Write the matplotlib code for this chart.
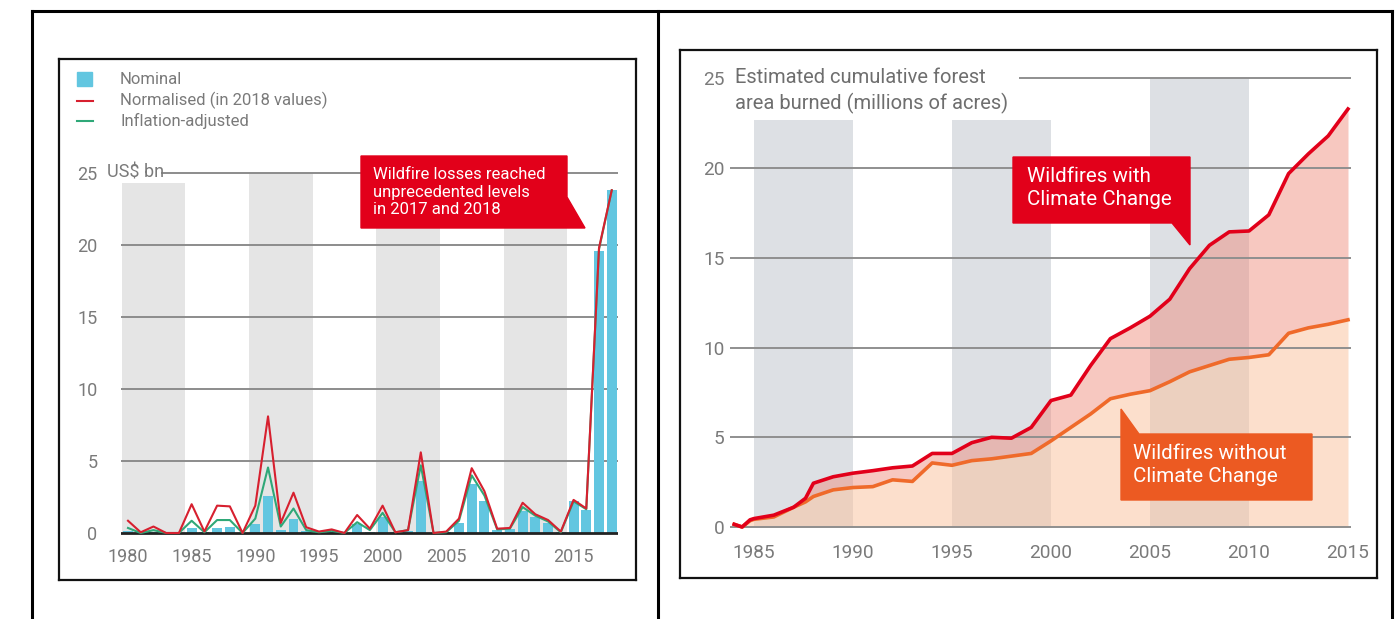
import matplotlib.pyplot as plt
from matplotlib.lines import Line2D
from matplotlib.patches import Polygon, Rectangle

plt.rcParams['font.family'] = ['Roboto', 'DejaVu Sans']

# ---- data: left chart (insured wildfire losses, US$ bn)
loss_years = list(range(1980, 2019))
nominal = [0.15, 0.05, 0.1, 0.0, 0.0, 0.35, 0.05, 0.35, 0.45, 0.0,
           0.6, 2.6, 0.2, 1.0, 0.15, 0.05, 0.1, 0.0, 0.6, 0.1,
           1.1, 0.05, 0.15, 3.6, 0.0, 0.05, 0.7, 3.4, 2.2, 0.2,
           0.3, 1.5, 1.1, 0.7, 0.05, 2.2, 1.6, 19.6, 23.8]
normalised = [0.85, 0.05, 0.45, 0.0, 0.0, 2.0, 0.1, 1.9, 1.85, 0.0,
              1.9, 8.1, 0.7, 2.8, 0.4, 0.1, 0.25, 0.0, 1.25, 0.3,
              1.9, 0.05, 0.2, 5.6, 0.0, 0.1, 1.0, 4.5, 2.9, 0.3,
              0.35, 2.1, 1.3, 0.9, 0.1, 2.3, 1.7, 19.8, 23.8]
inflation_adj = [0.35, 0.0, 0.2, 0.0, 0.0, 0.85, 0.05, 0.9, 0.9, 0.0,
                 1.0, 4.55, 0.45, 1.7, 0.2, 0.05, 0.15, 0.0, 0.75, 0.2,
                 1.4, 0.05, 0.2, 4.7, 0.0, 0.05, 0.85, 4.0, 2.6, 0.25,
                 0.3, 1.8, 1.2, 0.8, 0.05, 2.2, 1.65, 19.7, 23.8]
left_bands = [1982, 1992, 2002, 2012]
left_band_tops = [24.3, 25, 24.3, 24.3]
left_xticks = [1980, 1985, 1990, 1995, 2000, 2005, 2010, 2015]
left_yticks = [0, 5, 10, 15, 20, 25]

# ---- data: right chart (cumulative forest area burned, millions of acres)
area_years = [1984, 1984.4, 1984.8, 1985, 1986, 1987, 1987.6, 1988, 1989, 1990,
              1991, 1992, 1993, 1994, 1995, 1996, 1997, 1998, 1999, 2000,
              2001, 2002, 2003, 2004, 2005, 2006, 2007, 2008, 2009, 2010,
              2011, 2012, 2013, 2014, 2015]
with_cc = [0.15, 0.0, 0.4, 0.47, 0.66, 1.1, 1.6, 2.44, 2.8, 3.0,
           3.14, 3.3, 3.4, 4.1, 4.1, 4.7, 5.0, 4.95, 5.55, 7.05,
           7.35, 9.0, 10.5, 11.1, 11.75, 12.7, 14.4, 15.7, 16.45, 16.5,
           17.4, 19.7, 20.8, 21.8, 23.3]
without_cc = [0.15, 0.0, 0.35, 0.43, 0.56, 1.1, 1.4, 1.7, 2.07, 2.2,
              2.25, 2.63, 2.54, 3.57, 3.44, 3.7, 3.8, 3.95, 4.1, 4.8,
              5.55, 6.3, 7.15, 7.4, 7.6, 8.1, 8.65, 9.0, 9.35, 9.45,
              9.6, 10.8, 11.1, 11.3, 11.55]
right_bands = [1987.5, 1997.5, 2007.5]
right_band_tops = [22.7, 22.7, 25]
right_xticks = [1985, 1990, 1995, 2000, 2005, 2010, 2015]
right_yticks = [0, 5, 10, 15, 20, 25]

W, H = 1398, 619
fig = plt.figure(figsize=(W / 100, H / 100), dpi=100)


def fx(x):
    return x / W


def fy(y):
    return 1 - y / H


def px_axes(x0, y0, x1, y1, **kw):
    return fig.add_axes([fx(x0), fy(y1), (x1 - x0) / W, (y1 - y0) / H], **kw)


# outer table lines
for xs, ys in [([32, 1392], [11, 11]), ([32, 32], [11, 619]),
               ([658, 658], [11, 619]), ([1392, 1392], [11, 619])]:
    fig.add_artist(Line2D([fx(v) for v in xs], [fy(v) for v in ys],
                          transform=fig.transFigure, color='black', lw=2.2))

# image frames
for box in [(59, 59, 636, 580), (680, 50, 1377, 578)]:
    fr = px_axes(*box)
    fr.set_xticks([])
    fr.set_yticks([])
    fr.patch.set_alpha(0)
    for s in fr.spines.values():
        s.set_linewidth(1.6)
        s.set_color('#111111')

TICK = '#7a7a7a'

# ================= left chart =================
lx = lambda yr: 128 + (yr - 1980) * 12.73
ly = lambda v: 533 - v * 14.4
lxlim = (1979.45, 2018.5)
lylim = (-0.6, 25.6)
ax1 = px_axes(lx(lxlim[0]), ly(lylim[1]), lx(lxlim[1]), ly(lylim[0]))
ax1.set_xlim(*lxlim)
ax1.set_ylim(*lylim)
ax1.patch.set_alpha(0)
for s in ax1.spines.values():
    s.set_visible(False)

ax1.bar(left_bands, left_band_tops, width=5, color='#e5e5e5', zorder=0)
for v in left_yticks[1:-1]:
    ax1.axhline(v, color='#8c8c8c', lw=1.4, zorder=1)
ax1.axhline(25, xmin=3.25 / (lxlim[1] - lxlim[0]),
            color='#8c8c8c', lw=1.4, zorder=1)
ax1.bar(loss_years, nominal, width=0.78, color='#62c6e0', zorder=2)
ax1.axhline(0, color='#222222', lw=2, zorder=3)
ax1.plot(loss_years, inflation_adj, color='#2fa878', lw=1.5, zorder=4)
ax1.plot(loss_years, normalised, color='#d7202f', lw=1.5, zorder=5)

ax1.set_xticks(left_xticks)
ax1.set_yticks(left_yticks)
ax1.tick_params(length=0, labelsize=13, labelcolor=TICK)
ax1.tick_params(axis='x', pad=4.3)
ax1.tick_params(axis='y', pad=17)

fig.text(fx(107), fy(173), 'US$ bn', fontsize=13, color=TICK, va='center')

# legend
fig.add_artist(Rectangle((fx(77), fy(86)), 15 / W, 14 / H,
                         transform=fig.transFigure, color='#62c6e0'))
fig.add_artist(Line2D([fx(77), fx(93)], [fy(101), fy(101)],
                      transform=fig.transFigure, color='#d7202f', lw=1.5))
fig.add_artist(Line2D([fx(77), fx(93)], [fy(121), fy(121)],
                      transform=fig.transFigure, color='#2fa878', lw=1.5))
for yy, t in [(79, 'Nominal'), (100, 'Normalised (in 2018 values)'),
              (121, 'Inflation-adjusted')]:
    fig.text(fx(120), fy(yy), t, fontsize=12, color=TICK, va='center')

# callout left
pts = [(361, 156), (567, 156), (567, 197), (585, 228), (361, 228)]
fig.add_artist(Polygon([(fx(a), fy(b)) for a, b in pts], closed=True,
                       transform=fig.transFigure, color='#e2001a', zorder=10))
fig.text(fx(373), fy(192), 'Wildfire losses reached\nunprecedented levels\nin 2017 and 2018',
         fontsize=12, color='white', va='center', linespacing=1.22, zorder=11)

# ================= right chart =================
rx = lambda yr: 754 + (yr - 1985) * 19.8
ry = lambda v: 527 - v * 17.94
rxlim = (1983.8, 2015.15)
rylim = (-0.5, 25.5)
ax2 = px_axes(rx(rxlim[0]), ry(rylim[1]), rx(rxlim[1]), ry(rylim[0]))
ax2.set_xlim(*rxlim)
ax2.set_ylim(*rylim)
ax2.patch.set_alpha(0)
for s in ax2.spines.values():
    s.set_visible(False)

ax2.bar(right_bands, right_band_tops, width=5, color='#dde0e4', zorder=0)
ax2.fill_between(area_years, 0, without_cc, color='#fbc19b', alpha=0.5,
                 lw=0, zorder=1)
ax2.fill_between(area_years, without_cc, with_cc, color='#ef8c7c', alpha=0.48,
                 lw=0, zorder=1)
for v in right_yticks[:-1]:
    ax2.axhline(v, color='#8f8f8f', lw=1.4, zorder=2)
ax2.axhline(25, xmin=(1020 - rx(rxlim[0])) / (rx(rxlim[1]) - rx(rxlim[0])),
            color='#8f8f8f', lw=1.4, zorder=2)
ax2.plot(area_years, without_cc, color='#ef6a2a', lw=2.6, zorder=3,
         solid_joinstyle='round')
ax2.plot(area_years, with_cc, color='#e2001a', lw=2.6, zorder=4,
         solid_joinstyle='round')

ax2.set_xticks(right_xticks)
ax2.set_yticks(right_yticks)
ax2.tick_params(length=0, labelsize=13.7, labelcolor=TICK)
ax2.tick_params(axis='x', pad=5.5)
ax2.tick_params(axis='y', pad=4)

fig.text(fx(735), fy(91), 'Estimated cumulative forest\narea burned (millions of acres)',
         fontsize=14.5, color='#6e6e6e', va='center', linespacing=1.32)

# callouts right
pts = [(1013, 157), (1190, 157), (1190, 245), (1172, 223), (1013, 223)]
fig.add_artist(Polygon([(fx(a), fy(b)) for a, b in pts], closed=True,
                       transform=fig.transFigure, color='#e2001a', zorder=10))
fig.text(fx(1027), fy(188), 'Wildfires with\nClimate Change', fontsize=14.8,
         color='white', va='center', linespacing=1.28, zorder=11)

pts = [(1121, 409), (1139, 434), (1312, 434), (1312, 500), (1121, 500)]
fig.add_artist(Polygon([(fx(a), fy(b)) for a, b in pts], closed=True,
                       transform=fig.transFigure, color='#ec5a22', zorder=10))
fig.text(fx(1133), fy(465), 'Wildfires without\nClimate Change', fontsize=14.8,
         color='white', va='center', linespacing=1.28, zorder=11)

fig.savefig('out.png', dpi=100)
